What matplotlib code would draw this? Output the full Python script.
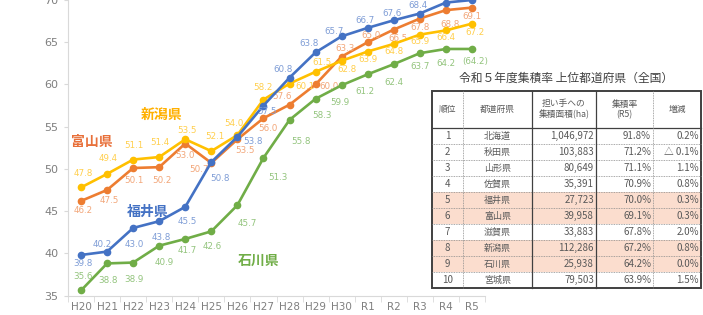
import matplotlib
matplotlib.use("Agg")
import matplotlib.pyplot as plt
from matplotlib.patches import Rectangle

plt.rcParams['font.family'] = ['Noto Sans CJK JP', 'DejaVu Sans']

years = ['H20', 'H21', 'H22', 'H23', 'H24', 'H25', 'H26', 'H27', 'H28', 'H29', 'H30',
         'R1', 'R2', 'R3', 'R4', 'R5']
toyama = [46.2, 47.5, 50.1, 50.2, 53.0, 50.7, 53.5, 56.0, 57.6, 60.0, 63.3, 65.0, 66.5, 67.8, 68.8, 69.1]
niigata = [47.8, 49.4, 51.1, 51.4, 53.5, 52.1, 54.0, 58.2, 60.1, 61.5, 62.8, 63.9, 64.8, 65.9, 66.4, 67.2]
fukui = [39.8, 40.2, 43.0, 43.8, 45.5, 50.8, 53.8, 57.5, 60.8, 63.8, 65.7, 66.7, 67.6, 68.4, 69.7, 70.0]
ishikawa = [35.6, 38.8, 38.9, 40.9, 41.7, 42.6, 45.7, 51.3, 55.8, 58.3, 59.9, 61.2, 62.4, 63.7, 64.2, 64.2]

# table data
t_title = '令和５年度集積率 上位都道府県（全国）'
t_header = ['順位', '都道府県', '担い手への\n集積面積(ha)', '集積率\n(R5)', '増減']
t_rank = ['1', '2', '3', '4', '5', '6', '7', '8', '9', '10']
t_pref = ['北海道', '秋田県', '山形県', '佐賀県', '福井県', '富山県', '滋賀県', '新潟県', '石川県', '宮城県']
t_area = ['1,046,972', '103,883', '80,649', '35,391', '27,723', '39,958', '33,883', '112,286', '25,938', '79,503']
t_rate = ['91.8%', '71.2%', '71.1%', '70.9%', '70.0%', '69.1%', '67.8%', '67.2%', '64.2%', '63.9%']
t_diff = ['0.2%', '△ 0.1%', '1.1%', '0.8%', '0.3%', '0.3%', '2.0%', '0.8%', '0.0%', '1.5%']
t_hilite = [4, 5, 7, 8]

# label offsets (pixels) for each point, None = label outside the visible area
off_toyama = [(2, -10), (2, -11), (1, -12), (3, -13), (0, -12), (-12, -7), (8, -11), (4, -10),
              (-8, 8), (13, -2), (3, 8), (3, 7), (4, -9), (0, -9), (4, -14), (0, -9)]
off_niigata = [(2, 14), (1, 15), (1, 14), (1, 15), (2, 9), (4, 15), (-3, 12), (-1, 12),
               (15, -3), (6, 9), (5, -9), (0, -8), (0, -8), (0, -7), (0, -7), (3, -9)]
off_fukui = [(2, -9), (-5, 7), (1, -17), (2, -16), (2, -15), (9, -16), (16, -5), (4, -6),
             (-6, 8), (-7, 9), (-8, 5), (-3, 7), (-2, 7), (-2, 8), None, None]
off_ishikawa = [(2, 14), (1, -17), (1, -17), (5, -17), (2, -12), (1, -15), (10, -18), (14, -20),
                (11, -22), (6, -17), (-2, -17), (-3, -17), (0, -18), (0, -13), (0, -15), (3, -13)]

series = [
    (toyama, '#ED7D31', '#F2A679', off_toyama),
    (niigata, '#FFC000', '#FFCF4D', off_niigata),
    (fukui, '#4472C4', '#7F9DD6', off_fukui),
    (ishikawa, '#70AD47', '#93C47D', off_ishikawa),
]

fig = plt.figure(figsize=(7.03, 3.15), dpi=100)
ax = fig.add_axes([68 / 703, 1 - 295.5 / 315, 417 / 703, 295.5 / 315])
x = list(range(len(years)))

for vals, col, lcol, offs in series:
    ax.plot(x, vals, color=col, lw=1.9, marker='o', ms=4.5, clip_on=False, zorder=3)
    for i, v in enumerate(vals):
        if offs[i] is None:
            continue
        txt = f'{v:.1f}'
        if vals is ishikawa and i == len(vals) - 1:
            txt = f'({v:.1f})'
        ax.annotate(txt, (i, v), xytext=offs[i], textcoords='offset pixels',
                    ha='center', va='center', fontsize=6.3, color=lcol,
                    family=['DejaVu Sans'], annotation_clip=False)

ax.text(0.42, 53.15, '富山県', color='#E8703A', fontsize=10, fontweight='bold', ha='center', va='center')
ax.text(3.1, 56.35, '新潟県', color='#FFB000', fontsize=10, fontweight='bold', ha='center', va='center')
ax.text(2.54, 44.96, '福井県', color='#4472C4', fontsize=10, fontweight='bold', ha='center', va='center')
ax.text(6.8, 39.15, '石川県', color='#70AD47', fontsize=10, fontweight='bold', ha='center', va='center')

ax.set_xlim(-0.5, len(years) - 0.5)
ax.set_ylim(35, 70)
ax.set_yticks([35, 40, 45, 50, 55, 60, 65, 70])
ax.set_xticks(x)
ax.set_xticklabels(years)
ax.set_xticks([i + 0.5 for i in range(-1, len(years))], minor=True)
ax.tick_params(axis='x', which='major', length=0, pad=5, labelsize=7.5, labelcolor='#7f7f7f')
ax.tick_params(axis='x', which='minor', length=4, color='#d9d9d9')
ax.tick_params(axis='y', length=3, color='#d9d9d9', labelsize=8, labelcolor='#7f7f7f', pad=4)
for lab in ax.get_xticklabels() + ax.get_yticklabels():
    lab.set_family(['DejaVu Sans'])
for s in ['top', 'right']:
    ax.spines[s].set_visible(False)
ax.spines['left'].set_color('#d9d9d9')
ax.spines['bottom'].set_color('#d9d9d9')

# table drawn in pixel coordinates
tax = fig.add_axes([0, 0, 1, 1], zorder=5)
tax.set_xlim(0, 703)
tax.set_ylim(315, 0)
tax.axis('off')
cols = [432, 463, 532, 596, 653, 701]
top, hb, rh = 91, 128, 16
bottom = hb + rh * len(t_rank)
tax.text(566, 78, t_title, ha='center', va='center', fontsize=8.5, color='#404040')
tax.add_patch(Rectangle((cols[0], top), cols[-1] - cols[0], bottom - top, fc='white', ec='none'))
for r in t_hilite:
    tax.add_patch(Rectangle((cols[0], hb + r * rh), cols[-1] - cols[0], rh, fc='#FBDDCE', ec='none'))
for j, h in enumerate(t_header):
    tax.text((cols[j] + cols[j + 1]) / 2, (top + hb) / 2, h, ha='center', va='center',
             fontsize=6.3, color='#595959', linespacing=1.2)
tcol = '#595959'
for i in range(len(t_rank)):
    yc = hb + rh * i + rh / 2
    tax.text((cols[0] + cols[1]) / 2, yc, t_rank[i], ha='center', va='center', fontsize=7, color=tcol)
    tax.text((cols[1] + cols[2]) / 2, yc, t_pref[i], ha='center', va='center', fontsize=6.5, color=tcol)
    tax.text(cols[3] - 2, yc, t_area[i], ha='right', va='center', fontsize=7, color=tcol)
    tax.text(cols[4] - 2, yc, t_rate[i], ha='right', va='center', fontsize=7, color=tcol)
    tax.text(cols[5] - 2, yc, t_diff[i], ha='right', va='center', fontsize=7, color=tcol)
    if i > 0:
        tax.plot([cols[0], cols[-1]], [hb + rh * i] * 2, color='#8c8c8c', lw=0.6, ls=(0, (1, 1)))
tax.plot([cols[0], cols[-1]], [hb, hb], color='#404040', lw=0.9)
for j in (1, 4):
    tax.plot([cols[j], cols[j]], [top, bottom], color='#8c8c8c', lw=0.6, ls=(0, (1, 1)))
for j in (2, 3):
    tax.plot([cols[j], cols[j]], [top, bottom], color='#404040', lw=0.9)
tax.add_patch(Rectangle((cols[0], top), cols[-1] - cols[0], bottom - top, fc='none', ec='#404040', lw=1.4))

fig.savefig('out.png', dpi=100, facecolor='white')
